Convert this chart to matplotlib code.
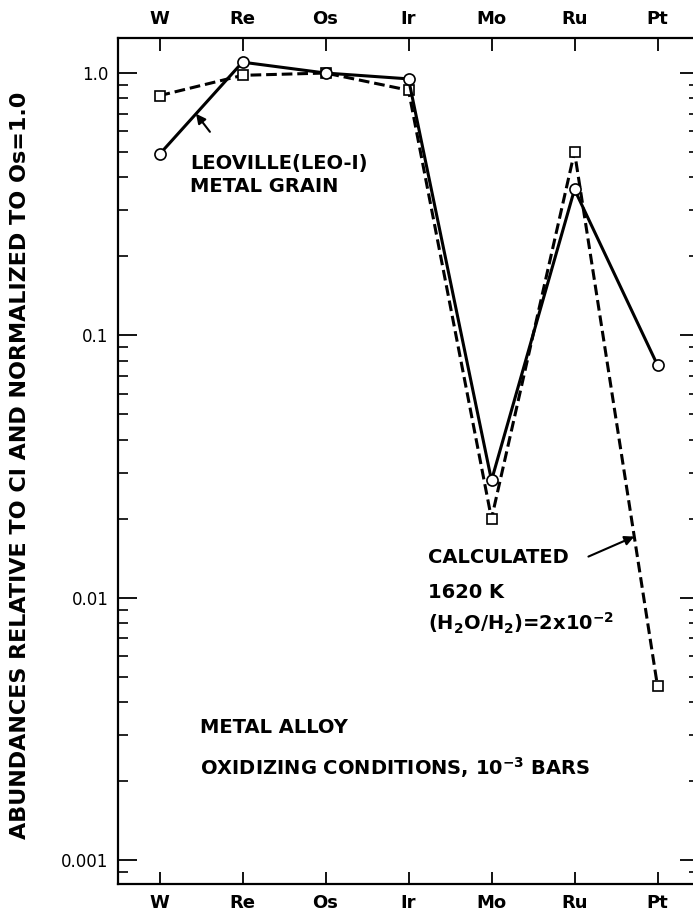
import numpy as np
from matplotlib import pyplot as plt

plt.rcParams['font.family'] = ['DejaVu Sans']
plt.rcParams['mathtext.default'] = 'bf'

elements = ["W", "Re", "Os", "Ir", "Mo", "Ru", "Pt"]
# Leoville (LEO-1) metal grain, relative to CI and Os = 1.0
leoville = [0.49, 1.10, 1.00, 0.95, 0.028, 0.36, 0.077]
# calculated alloy, 1620 K, H2O/H2 = 2x10^-2
calcule = [0.82, 0.98, 1.00, 0.86, 0.020, 0.50, 0.0046]

x = np.arange(len(elements))

fig = plt.figure(figsize=(6.93, 9.19), dpi=100)
# the frame runs a little past the right edge of the sheet
ax = fig.add_axes([118 / 693, 35 / 919, 581 / 693, 846 / 919])

ax.plot(x, calcule, color="k", lw=2.2, ls=(0, (3.5, 1.6)),
        marker="s", ms=7.5, mfc="white", mec="k", mew=1.2, zorder=3)
ax.plot(x, leoville, color="k", lw=2.2, ls="-",
        marker="o", ms=8, mfc="white", mec="k", mew=1.2, zorder=4)

ax.set_yscale("log")
ax.set_xlim(-0.5, 6.5)
ax.set_ylim(0.00081, 1.36)

ax.set_xticks(x)
ax.set_xticklabels(elements, fontsize=13, fontweight="bold")
ax.tick_params(axis="x", which="both", direction="in", top=True, bottom=True,
               labeltop=True, labelbottom=True, length=9, width=1.3, pad=7)
ax.set_yticks([0.001, 0.01, 0.1, 1.0])
ax.set_yticklabels(["0.001", "0.01", "0.1", "1.0"], fontsize=12)
ax.tick_params(axis="y", which="major", direction="in", left=True, right=True,
               length=14, width=1.3, pad=7)
ax.tick_params(axis="y", which="minor", direction="in", left=True, right=True,
               length=7, width=1.2)
for s in ax.spines.values():
    s.set_linewidth(1.6)

fig.text(20 / 693, 1 - 465 / 919,
         "ABUNDANCES RELATIVE TO CI AND NORMALIZED TO Os=1.0",
         rotation=90, ha="center", va="center", fontsize=16, fontweight="bold")

# labels
txt = dict(transform=ax.transAxes, fontsize=14, fontweight="bold", va="center", ha="left")
ax.text(0.124, 0.852, "LEOVILLE(LEO-I)", **txt)
ax.text(0.124, 0.824, "METAL GRAIN", **txt)
ax.text(0.534, 0.3865, "CALCULATED", **txt)
ax.text(0.534, 0.345, "1620 K", **txt)
ax.text(0.534, 0.3085, r"(H$_2$O/H$_2$)=2x10$^{-2}$", **txt)
ax.text(0.141, 0.1844, "METAL ALLOY", **txt)
ax.text(0.141, 0.138, r"OXIDIZING CONDITIONS, 10$^{-3}$ BARS", **txt)

# arrows pointing at the two curves
def surLigne(serie, xp):
    i = int(np.floor(xp))
    f = xp - i
    return 10 ** (np.log10(serie[i]) + f * (np.log10(serie[i + 1]) - np.log10(serie[i])))

fleche = dict(arrowstyle="-|>", color="k", lw=1.5, mutation_scale=14, shrinkA=0, shrinkB=0)
ax.annotate("", xy=(0.44, surLigne(leoville, 0.44)), xytext=(10, -13),
            textcoords="offset points", arrowprops=fleche)
ax.annotate("", xy=(5.72, surLigne(calcule, 5.72)), xytext=(-33, -14.4),
            textcoords="offset points", arrowprops=fleche)

plt.savefig("out.png", dpi=100)
